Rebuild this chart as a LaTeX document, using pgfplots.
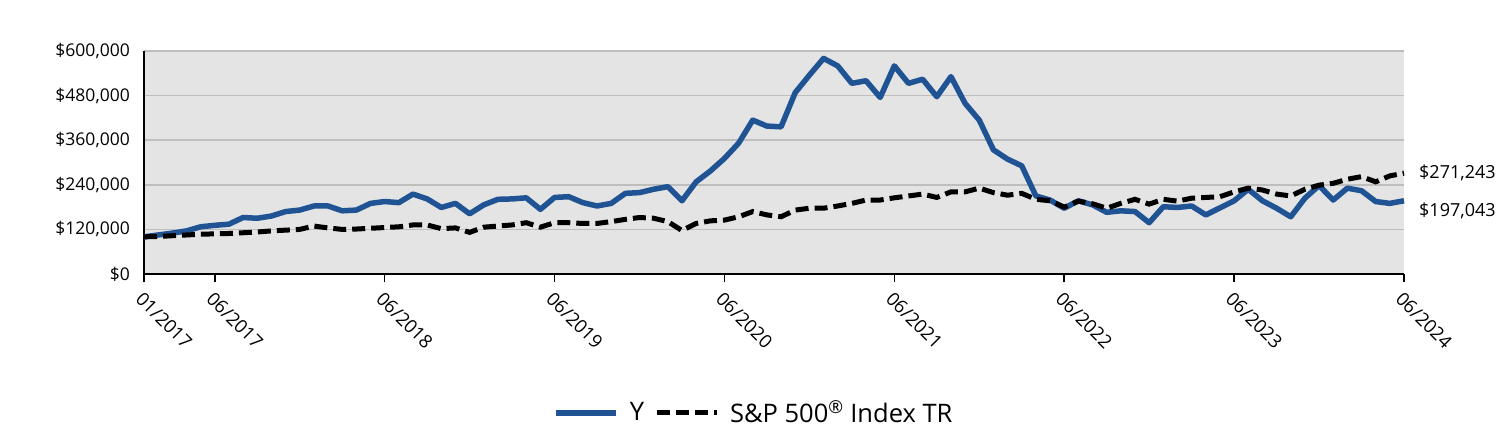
\documentclass[border=0pt]{standalone}
\usepackage{fontspec}
\setmainfont{Open Sans}
\usepackage{pgfplots}
\pgfplotsset{compat=1.18}
\definecolor{yblue}{RGB}{31,83,148}
\definecolor{bgc}{RGB}{228,228,228}
\definecolor{gridc}{RGB}{190,190,190}
\newcommand{\yl}[1]{\$#1\hspace{14pt}}
\begin{document}
\fontsize{18}{21}\selectfont
\begin{tikzpicture}
\useasboundingbox (0,0) rectangle (1512pt,432pt);
\begin{axis}[
  at={(144pt,158pt)}, anchor=south west,
  scale only axis, width=1260pt, height=223pt,
  xmin=0, xmax=89, ymin=0, ymax=600000,
  scaled y ticks=false,
  axis background/.style={fill=bgc},
  axis x line*=bottom, axis y line*=left,
  axis line style={black, line width=1.5pt, -},
  ytick={0,120000,240000,360000,480000,600000},
  yticklabels={{\yl{0}},{\yl{120,000}},{\yl{240,000}},{\yl{360,000}},{\yl{480,000}},{\yl{600,000}}},
  ymajorgrids, grid style={gridc, line width=1.5pt},
  xtick={0,5,17,29,41,53,65,77,89},
  xticklabels={01/2017,06/2017,06/2018,06/2019,06/2020,06/2021,06/2022,06/2023,06/2024},
  x tick label style={rotate=-45, anchor=north west, font=\fontsize{18.5}{21}\selectfont},
  y tick label style={font=\fontsize{17.5}{21}\selectfont},
  tick align=outside,
  major tick length=8pt,
  tick style={black, line width=1.5pt},
  ytick style={draw=none},
  clip=false,
  legend style={at={(0.484,-0.623)}, anchor=center, draw=none, fill=none, legend columns=2,
    font=\fontsize{25.5}{28}\selectfont,
    /tikz/every even column/.append style={column sep=8pt},
    /tikz/every odd column/.append style={column sep=9pt}},
  legend image code/.code={\draw[#1] (0pt,0pt) -- (60pt,0pt);},
]
\addplot[yblue, line width=5.5pt, line join=round] coordinates {
(0,100000)(1,105000)(2,110000)(3,116000)(4,127000)(5,131000)(6,134000)(7,152000)(8,150000)(9,156000)
(10,168000)(11,172000)(12,183000)(13,183000)(14,170000)(15,172000)(16,190000)(17,195000)(18,192000)(19,215000)
(20,202000)(21,179000)(22,190000)(23,162000)(24,186000)(25,201000)(26,202000)(27,205000)(28,174000)(29,206000)
(30,208000)(31,192000)(32,183000)(33,190000)(34,217000)(35,219000)(36,228000)(37,235000)(38,197000)(39,248000)
(40,277000)(41,311000)(42,352000)(43,414000)(44,398000)(45,396000)(46,488000)(47,535000)(48,580000)(49,560000)
(50,513000)(51,520000)(52,475000)(53,560000)(54,513000)(55,524000)(56,477000)(57,531000)(58,459000)(59,414000)
(60,334000)(61,309000)(62,291000)(63,210000)(64,199000)(65,177000)(66,197000)(67,186000)(68,166000)(69,170000)
(70,168000)(71,138000)(72,181000)(73,179000)(74,183000)(75,159000)(76,178000)(77,197000)(78,228000)(79,197000)
(80,177000)(81,154000)(82,204000)(83,238000)(84,199000)(85,231000)(86,224000)(87,195000)(88,190000)(89,197043)
};
\addlegendentry{Y}
\addplot[black, line width=5pt, dash pattern=on 13pt off 6pt] coordinates {
(0,100000)(1,101000)(2,103000)(3,105000)(4,107000)(5,108000)(6,109000)(7,111000)(8,113000)(9,116000)
(10,118000)(11,120000)(12,129000)(13,124000)(14,120000)(15,121000)(16,123000)(17,125000)(18,127000)(19,132000)
(20,132000)(21,122000)(22,124000)(23,112000)(24,126000)(25,129000)(26,132000)(27,138000)(28,126000)(29,138000)
(30,138000)(31,136000)(32,136000)(33,141000)(34,147000)(35,152000)(36,150000)(37,141000)(38,117000)(39,136000)
(40,143000)(41,145000)(42,154000)(43,168000)(44,159000)(45,154000)(46,172000)(47,177000)(48,177000)(49,183000)
(50,190000)(51,199000)(52,199000)(53,205000)(54,210000)(55,215000)(56,206000)(57,221000)(58,221000)(59,231000)
(60,219000)(61,212000)(62,217000)(63,201000)(64,197000)(65,180000)(66,196000)(67,189000)(68,177000)(69,190000)
(70,201000)(71,188000)(72,201000)(73,196000)(74,204000)(75,206000)(76,208000)(77,221000)(78,231000)(79,226000)
(80,215000)(81,210000)(82,228000)(83,239000)(84,244000)(85,255000)(86,262000)(87,248000)(88,264000)(89,271243)
};
\addlegendentry{S\&P 500\textsuperscript{\textregistered} Index TR}
\node[anchor=west, xshift=9pt, font=\fontsize{18}{21}\selectfont] at (axis cs:89,271243) {\$271,243};
\node[anchor=west, xshift=9pt, yshift=-10pt, font=\fontsize{18}{21}\selectfont] at (axis cs:89,197043) {\$197,043};
\end{axis}
\end{tikzpicture}
\end{document}
